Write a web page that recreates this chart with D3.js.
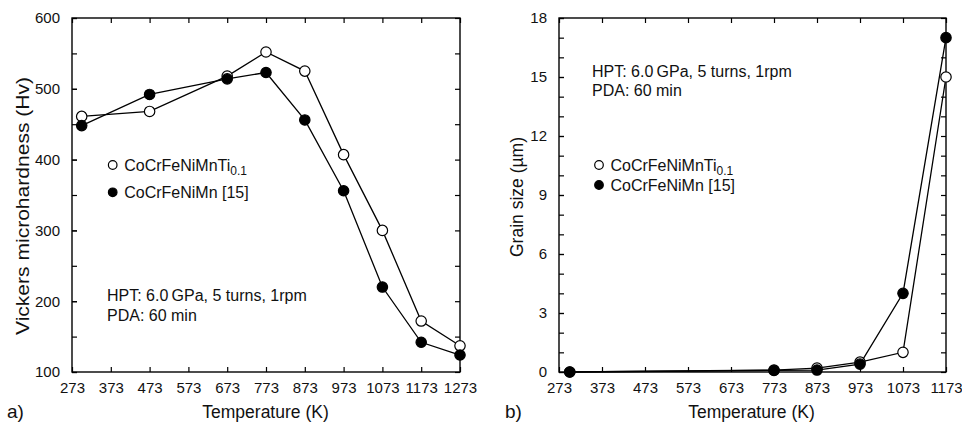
<!DOCTYPE html>
<html>
<head>
<meta charset="utf-8">
<script src="https://cdn.jsdelivr.net/npm/d3@7"></script>
<style>
  html, body { margin: 0; padding: 0; background: #fff; }
  svg { display: block; font-family: "Liberation Sans", Arial, sans-serif; }
</style>
</head>
<body>
<svg id="chart" width="962" height="423"></svg>
<script>
// ---- data ----
const tempsA = [298, 473, 673, 773, 873, 973, 1073, 1173, 1273];
const hvTi = [461, 468, 518, 552, 525, 407, 300, 172, 137];
const hvMn = [448, 492, 514, 523, 456, 356, 220, 142, 124];

const tempsB = [298, 773, 873, 973, 1073, 1173];
const gsTi = [0, 0.1, 0.2, 0.5, 1.0, 15];
const gsMn = [0, 0.08, 0.1, 0.4, 4.0, 17];

const xTicksA = [273, 373, 473, 573, 673, 773, 873, 973, 1073, 1173, 1273];
const yTicksA = [100, 200, 300, 400, 500, 600];
const yMinorA = [100, 150, 200, 250, 300, 350, 400, 450, 500, 550, 600];
const xTicksB = [273, 373, 473, 573, 673, 773, 873, 973, 1073, 1173];
const yTicksB = [0, 3, 6, 9, 12, 15, 18];
const yMinorB = d3.range(0, 19);

const seriesNames = ["CoCrFeNiMnTi", "CoCrFeNiMn [15]"];
const subscript = "0.1";
const noteLines = ["HPT: 6.0\u2009GPa, 5 turns, 1rpm", "PDA: 60 min"];

const svg = d3.select("#chart");

svg.append("defs").append("clipPath").attr("id", "clipA")
  .append("rect").attr("x", 0).attr("y", 0).attr("width", 478).attr("height", 423);

function panel(opts) {
  const g = svg.append("g");
  if (opts.clip) g.attr("clip-path", "url(#clipA)");
  const x = d3.scaleLinear().domain(opts.xDomain).range([opts.left, opts.right]);
  const y = d3.scaleLinear().domain(opts.yDomain).range([opts.bottom, opts.top]);
  const tick = 5;

  const bx = g.append("g").attr("transform", `translate(0,${opts.bottom})`)
    .call(d3.axisBottom(x).tickValues(opts.xTicks).tickFormat(d3.format("d"))
      .tickSizeInner(-tick).tickSizeOuter(0).tickPadding(10));
  const tx = g.append("g").attr("transform", `translate(0,${opts.top})`)
    .call(d3.axisTop(x).tickValues(opts.xTicks).tickFormat("")
      .tickSizeInner(-tick).tickSizeOuter(0));
  const ly = g.append("g").attr("transform", `translate(${opts.left},0)`)
    .call(d3.axisLeft(y).tickValues(opts.yTicks).tickFormat(d3.format("d"))
      .tickSizeInner(-tick).tickSizeOuter(0).tickPadding(12));
  const lym = g.append("g").attr("transform", `translate(${opts.left},0)`)
    .call(d3.axisLeft(y).tickValues(opts.yMinor).tickFormat("")
      .tickSizeInner(-tick).tickSizeOuter(0));
  const ry = g.append("g").attr("transform", `translate(${opts.right},0)`)
    .call(d3.axisRight(y).tickValues(opts.yMinor).tickFormat("")
      .tickSizeInner(-tick).tickSizeOuter(0));
  [bx, tx, ly, lym, ry].forEach(a => {
    a.select(".domain").remove();
    a.selectAll("line").attr("stroke", "#000").attr("stroke-width", 1.2);
    a.selectAll("text").attr("font-size", 15).attr("fill", "#111")
      .attr("font-family", '"Liberation Sans", Arial, sans-serif');
  });

  g.append("rect").attr("x", opts.left).attr("y", opts.top)
    .attr("width", opts.right - opts.left).attr("height", opts.bottom - opts.top)
    .attr("fill", "none").attr("stroke", "#000").attr("stroke-width", 1.4);

  const line = d3.line().x(d => x(d[0])).y(d => y(d[1]));
  const sets = [
    { vals: opts.s1, fill: "#fff" },
    { vals: opts.s2, fill: "#000" }
  ];
  sets.forEach(s => {
    const pts = opts.temps.map((t, i) => [t, s.vals[i]]);
    g.append("path").datum(pts).attr("d", line)
      .attr("fill", "none").attr("stroke", "#000").attr("stroke-width", 1.3);
  });
  sets.forEach(s => {
    const pts = opts.temps.map((t, i) => [t, s.vals[i]]);
    g.selectAll(null).data(pts).enter().append("circle")
      .attr("cx", d => x(d[0])).attr("cy", d => y(d[1])).attr("r", 5.2)
      .attr("fill", s.fill).attr("stroke", "#000").attr("stroke-width", 1.2);
  });

  opts.legendY.forEach((ly0, i) => {
    g.append("circle").attr("cx", opts.legendX).attr("cy", ly0).attr("r", 4.3)
      .attr("fill", i === 0 ? "#fff" : "#000").attr("stroke", "#000").attr("stroke-width", 1.2);
    const t = g.append("text").attr("x", opts.legendX + 11.5).attr("y", ly0 + 5.8)
      .attr("font-size", 16).attr("fill", "#111").text(seriesNames[i]);
    if (i === 0) {
      t.append("tspan").attr("font-size", 12).attr("dy", 4).text(subscript);
    }
  });

  noteLines.forEach((s, i) => {
    g.append("text").attr("x", opts.noteX).attr("y", opts.noteY + i * opts.noteGap)
      .attr("font-size", 16).attr("fill", "#111").text(s);
  });

  g.append("text").attr("x", opts.xTitleX).attr("y", 418)
    .attr("text-anchor", "middle").attr("font-size", 17.5).attr("fill", "#111").text("Temperature (K)");
  g.append("text").attr("transform", `translate(${opts.yTitleX},${opts.yTitleY}) rotate(-90)`)
    .attr("text-anchor", "middle").attr("font-size", opts.yTitleSize).attr("fill", "#111")
    .attr("textLength", opts.yTitleLen).attr("lengthAdjust", "spacingAndGlyphs")
    .text(opts.yTitle);
  g.append("text").attr("x", opts.letterX).attr("y", 418)
    .attr("font-size", 19).attr("fill", "#111").text(opts.letter);
}

panel({
  clip: true,
  left: 72, right: 460, top: 18, bottom: 372,
  xDomain: [273, 1273], yDomain: [100, 600],
  xTicks: xTicksA, yTicks: yTicksA, yMinor: yMinorA,
  temps: tempsA, s1: hvTi, s2: hvMn,
  legendX: 112.7, legendY: [165, 192.3],
  noteX: 107, noteY: 301, noteGap: 20,
  xTitleX: 265.5,
  yTitle: "Vickers microhardness (Hv)", yTitleX: 28.5, yTitleY: 206, yTitleSize: 19, yTitleLen: 258,
  letter: "a)", letterX: 7
});

panel({
  clip: false,
  left: 559, right: 946, top: 18, bottom: 372,
  xDomain: [273, 1173], yDomain: [0, 18],
  xTicks: xTicksB, yTicks: yTicksB, yMinor: yMinorB,
  temps: tempsB, s1: gsTi, s2: gsMn,
  legendX: 599, legendY: [165, 185],
  noteX: 592, noteY: 77, noteGap: 18.5,
  xTitleX: 751.5,
  yTitle: "Grain size (\u00b5m)", yTitleX: 523, yTitleY: 197, yTitleSize: 17.5, yTitleLen: 120,
  letter: "b)", letterX: 505
});
</script>
</body>
</html>
